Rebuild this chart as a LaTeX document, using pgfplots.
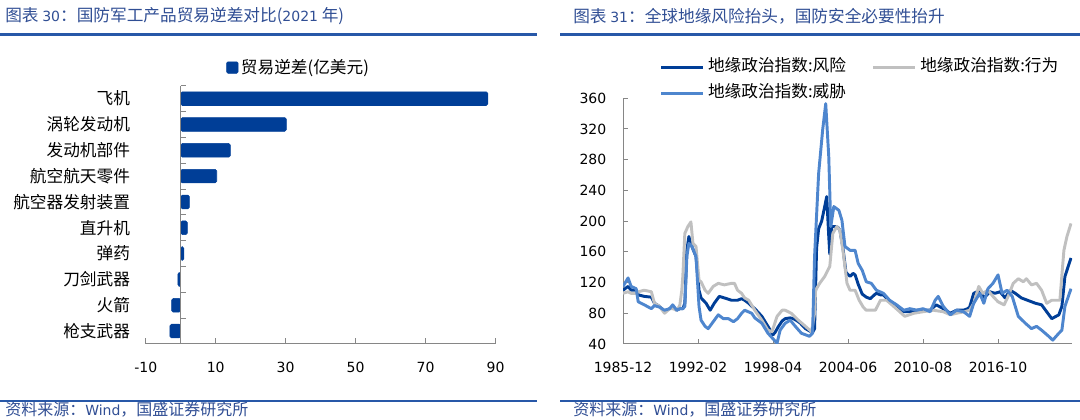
\documentclass[border=0pt]{standalone}
\usepackage{fontspec}
\setmainfont{DejaVu Sans}
\newfontfamily\cjk{Noto Sans CJK SC}
\newfontfamily\dv{DejaVu Sans}
\usepackage{pgfplots}
\pgfplotsset{compat=1.18}

\definecolor{darkb}{RGB}{0,62,151}
\definecolor{lightb}{RGB}{78,134,206}
\definecolor{greyl}{RGB}{192,192,192}
\definecolor{axisg}{RGB}{134,134,134}
\definecolor{titleb}{RGB}{48,78,148}
\definecolor{ruleb}{RGB}{40,88,168}

\newcommand\cjkf{\cjk\fontsize{12.5}{15}\selectfont}
\newcommand\numf{\dv\fontsize{10.5}{12}\selectfont}

\begin{document}
\begin{tikzpicture}
\useasboundingbox (0,0) rectangle (810pt,315pt);

% titles, rules, sources
\node[anchor=west, inner sep=0pt, text=titleb] at (3.75pt,302.8pt)
  {\cjkf 图表 {\numf 30}：国防军工产品贸易逆差对比({\numf 2021} 年)};
\node[anchor=west, inner sep=0pt, text=titleb] at (429.75pt,302.8pt)
  {\cjkf 图表 {\numf 31}：全球地缘风险抬头，国防安全必要性抬升};
\draw[ruleb, line width=1.8pt] (0pt,289pt) -- (402.75pt,289pt);
\draw[ruleb, line width=1.8pt] (420pt,289pt) -- (810pt,289pt);
\draw[ruleb, line width=1.5pt] (0pt,14pt) -- (402.75pt,14pt);
\draw[ruleb, line width=1.5pt] (420pt,14pt) -- (810pt,14pt);
\node[anchor=west, inner sep=0pt, text=titleb] at (3.75pt,7.6pt)
  {\cjk\fontsize{12}{14}\selectfont 资料来源：{\numf Wind}，国盛证券研究所};
\node[anchor=west, inner sep=0pt, text=titleb] at (429.75pt,7.6pt)
  {\cjk\fontsize{12}{14}\selectfont 资料来源：{\numf Wind}，国盛证券研究所};

% left: trade deficit bars
\begin{axis}[
  at={(109.3pt,57pt)}, anchor=south west, scale only axis,
  width=262.35pt, height=193.7pt,
  xmin=-10, xmax=90, ymin=-0.5, ymax=9.5,
  axis x line*=bottom, axis y line*=left,
  x axis line style={-, draw=axisg, line width=0.75pt},
  y axis line style={draw=none},
  xtick={-10,10,30,50,70,90},
  ytick={0,...,9},
  yticklabels={枪支武器,火箭,刀剑武器,弹药,直升机,航空器发射装置,航空航天零件,发动机部件,涡轮发动机,飞机},
  ytick style={draw=none},
  xtick style={draw=axisg, line width=0.75pt},
  tick align=inside, major tick length=4.3pt,
  xticklabel style={font=\numf, yshift=-10pt},
  yticklabel style={font=\cjkf, xshift=-8.3pt},
  /pgf/number format/assume math mode=true,
  clip=false,
  legend style={at={(0.2296,1.0704)}, anchor=west, draw=none, fill=none,
    inner sep=0pt, nodes={inner sep=0pt, font=\cjkf},
    /tikz/every odd column/.append style={column sep=2pt}},
]
\addplot[xbar, bar width=0.53, fill=darkb, draw=darkb, rounded corners=1.2pt,
  legend image code/.code={\draw[fill=darkb, draw=darkb, rounded corners=1pt] (0pt,-4.3pt) rectangle (8.6pt,4.3pt);}]
  coordinates {(-3.1,0) (-2.6,1) (-0.8,2) (0.9,3) (1.9,4) (2.5,5) (10.3,6) (14.2,7) (30.2,8) (87.8,9)};
\addlegendentry{贸易逆差(亿美元)}
\draw[axisg, line width=0.75pt] (axis cs:0,-0.5) -- (axis cs:0,9.5);
\pgfplotsinvokeforeach{-0.5,0.5,1.5,2.5,3.5,4.5,5.5,6.5,7.5,8.5,9.5}{
  \draw[axisg, line width=0.75pt] (axis cs:0,#1) -- ++(3.75pt,0pt);
}
\end{axis}

% right: geopolitical risk indices
\begin{axis}[
  at={(467.25pt,57pt)}, anchor=south west, scale only axis,
  width=336.75pt, height=184.3pt,
  xmin=0, xmax=443, ymin=40, ymax=360,
  axis x line*=bottom, axis y line*=left,
  axis line style={-, draw=axisg, line width=0.75pt},
  xtick={0,74,148,222,296,370},
  xticklabels={1985-12,1992-02,1998-04,2004-06,2010-08,2016-10},
  ytick={40,80,...,360},
  tick style={draw=axisg, line width=0.75pt},
  tick align=inside, major tick length=4pt,
  xticklabel style={font=\numf, yshift=-10pt},
  yticklabel style={font=\numf, xshift=-9pt},
  /pgf/number format/assume math mode=true,
  legend columns=2,
  legend style={at={(0.0813,1.157)}, anchor=north west, draw=none, fill=none,
    inner sep=0pt, nodes={inner sep=0pt, font=\cjkf, text height=9pt, text depth=3pt},
    /tikz/row sep=7pt,
    /tikz/every odd column/.append style={column sep=3pt},
    /tikz/every even column/.append style={column sep=19.5pt}},
  legend cell align=left,
  legend image code/.code={\draw[#1] (0pt,0pt) -- (31pt,0pt);},
  every axis plot/.append style={line width=2.2pt, line join=round},
]
\addplot[darkb] coordinates {
(0,110) (5,115) (8,110) (13,110) (15,104) (21,102) (28,101) (31,93) (36,89)
(41,82) (46,86) (49,88) (53,84) (56,86) (59,86) (61,93) (63,162) (65,180)
(67,170) (72,154) (75,110) (77,100) (82,93) (86,84) (90,93) (95,102) (100,100)
(107,97) (113,97) (117,99) (120,97) (124,93) (127,89) (130,86) (137,76)
(143,63) (148,52) (150,55) (153,62) (157,70) (160,73) (165,74) (168,73)
(172,70) (175,67) (180,60) (184,57) (187,55) (189,60) (191,165) (193,190)
(196,200) (199,219) (201,232) (203,180) (204,157) (206,193) (209,193)
(212,192) (214,188) (217,165) (220,133) (224,128) (227,132) (229,130)
(232,118) (236,105) (240,101) (244,99) (248,104) (250,106) (254,104)
(257,104) (263,95) (270,88) (277,82) (283,82) (290,84) (296,84) (303,84)
(309,91) (316,86) (323,80) (329,84) (336,84) (340,86) (342,88) (346,106)
(352,110) (356,100) (362,108) (367,106) (372,108) (377,100) (382,110)
(387,106) (393,100) (399,97) (407,93) (413,91) (418,82) (423,73) (430,78)
(433,89) (436,128) (442,152)
};
\addlegendentry{地缘政治指数:风险}
\addplot[greyl] coordinates {
(0,106) (5,108) (8,106) (13,106) (15,108) (21,110) (28,108) (31,93) (36,89)
(41,80) (46,86) (49,86) (53,84) (56,90) (58,110) (59,128) (61,184) (64,193)
(67,199) (69,171) (72,167) (75,123) (77,121) (81,110) (84,106) (89,115)
(94,119) (100,117) (107,119) (110,119) (113,110) (117,106) (120,100)
(124,97) (130,84) (137,71) (143,58) (147,56) (152,76) (157,84) (160,84)
(166,80) (173,71) (180,63) (186,56) (189,80) (190,110) (194,119) (199,128)
(204,141) (207,184) (211,193) (214,188) (217,162) (221,119) (224,110)
(229,110) (233,97) (237,88) (240,84) (244,84) (249,84) (254,97) (260,97)
(267,89) (273,82) (278,76) (287,80) (296,82) (306,84) (316,82) (323,78)
(329,80) (337,82) (342,84) (346,93) (349,106) (351,115) (355,106) (360,110)
(365,102) (370,95) (376,91) (380,102) (385,119) (390,125) (395,121)
(398,125) (403,117) (408,119) (413,110) (418,93) (423,97) (431,97)
(435,162) (438,180) (442,197)
};
\addlegendentry{地缘政治指数:行为}
\addplot[lightb] coordinates {
(0,115) (5,126) (8,115) (13,112) (15,95) (21,91) (28,86) (31,90) (36,88)
(41,84) (46,86) (49,91) (53,84) (56,86) (59,86) (61,89) (63,154) (65,171)
(68,167) (72,154) (75,89) (77,71) (81,63) (84,60) (89,69) (94,78) (99,73)
(104,73) (109,69) (113,73) (117,80) (120,84) (127,80) (130,74) (137,67)
(143,54) (152,41) (155,58) (160,67) (165,71) (170,63) (176,54) (184,50)
(187,54) (189,154) (193,262) (197,319) (200,353) (203,284) (205,193)
(208,219) (213,214) (216,201) (219,167) (224,162) (229,162) (232,145)
(236,136) (240,121) (245,119) (250,110) (257,106) (263,97) (270,91)
(277,84) (283,86) (290,84) (296,86) (303,82) (308,97) (311,102) (316,89)
(323,78) (329,84) (336,82) (342,76) (346,93) (352,106) (356,93) (360,112)
(365,119) (370,130) (374,106) (379,110) (384,102) (390,76) (397,67)
(403,60) (408,63) (413,58) (420,50) (424,45) (430,54) (433,58) (436,89)
(442,112)
};
\addlegendentry{地缘政治指数:威胁}
\end{axis}
\end{tikzpicture}
\end{document}
